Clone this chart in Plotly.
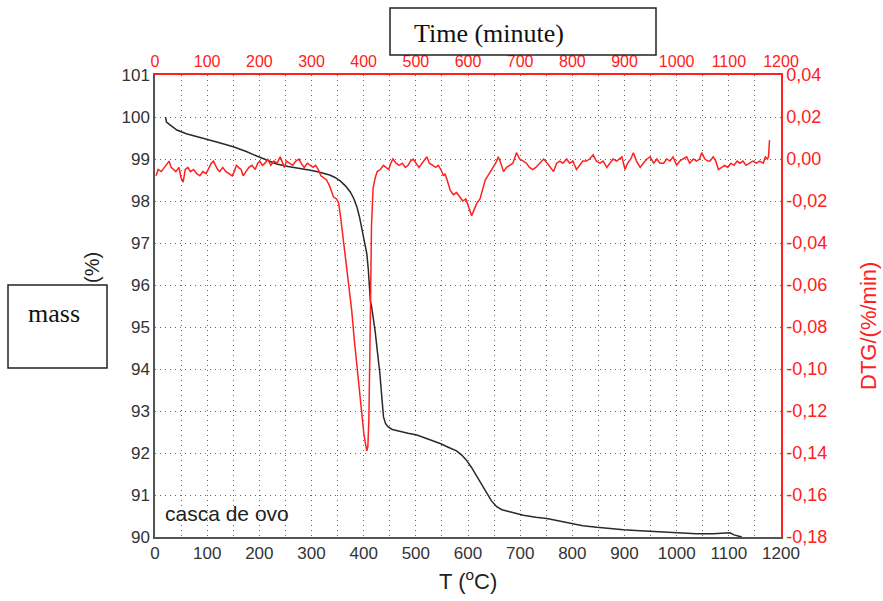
import plotly.graph_objects as go

# ---- data ----
T_mass = [20, 22, 30, 42, 60, 86, 120, 150, 175, 195,
          215, 233, 255, 278, 295, 310, 325, 335, 345, 355,
          365, 374, 381, 387, 392, 396, 401, 406, 409, 411,
          413, 415, 418, 422, 426, 431, 435, 438, 442, 447,
          455, 470, 485, 502, 518, 533, 548, 560, 570, 578,
          588, 597, 607, 617, 627, 636, 645, 655, 665, 680,
          706, 730, 751, 775, 795, 820, 847, 870, 898, 930,
          962, 1000, 1038, 1070, 1090, 1102, 1110, 1121, 1125]
mass = [100.0, 99.88, 99.80, 99.69, 99.60, 99.52, 99.40, 99.29, 99.18, 99.07,
        98.97, 98.88, 98.82, 98.78, 98.74, 98.70, 98.66, 98.62, 98.56, 98.48,
        98.36, 98.22, 98.06, 97.86, 97.62, 97.39, 97.05, 96.75, 96.35, 95.96,
        95.6, 95.5, 95.25, 94.9, 94.45, 93.9, 93.3, 92.86, 92.7, 92.62,
        92.56, 92.51, 92.47, 92.43, 92.36, 92.28, 92.22, 92.15, 92.1, 92.05,
        91.95, 91.83, 91.65, 91.44, 91.24, 91.04, 90.86, 90.72, 90.65, 90.6,
        90.52, 90.47, 90.44, 90.38, 90.33, 90.27, 90.23, 90.2, 90.17, 90.15,
        90.13, 90.1, 90.08, 90.08, 90.09, 90.1, 90.05, 90.01, 90.0]

T_dtg = [2, 6, 12, 18, 22, 27, 31, 35, 40, 46,
         50, 54, 58, 63, 68, 74, 80, 86, 92, 98,
         104, 108, 112, 116, 120, 124, 130, 136, 142, 148,
         152, 156, 160, 165, 169, 174, 180, 186, 192, 197,
         201, 206, 211, 216, 222, 228, 234, 240, 244, 248,
         252, 258, 264, 270, 276, 280, 286, 292, 298, 303,
         308, 313, 318, 323, 329, 335, 342, 348, 352, 356,
         360, 364, 368, 372, 377, 382, 387, 392, 396, 400,
         403, 406, 408, 410, 412, 413, 415, 418, 422, 426,
         432, 438, 443, 448, 452, 456, 462, 468, 474, 480,
         485, 490, 495, 500, 506, 512, 517, 521, 526, 532,
         538, 543, 548, 553, 556, 560, 566, 572, 578, 584,
         590, 596, 602, 607, 612, 617, 623, 628, 633, 638,
         643, 648, 653, 658, 663, 668, 674, 680, 686, 693,
         699, 706, 712, 718, 724, 730, 737, 745, 752, 758,
         764, 770, 776, 782, 789, 795, 801, 808, 814, 820,
         827, 833, 840, 846, 853, 859, 866, 872, 878, 885,
         890, 895, 901, 906, 912, 917, 923, 930, 936, 943,
         949, 956, 962, 968, 975, 981, 987, 993, 1000, 1006,
         1012, 1019, 1025, 1032, 1038, 1044, 1048, 1054, 1060, 1064,
         1070, 1075, 1080, 1086, 1092, 1098, 1104, 1110, 1116, 1121,
         1127, 1133, 1140, 1146, 1153, 1159, 1166, 1170, 1174, 1176,
         1178]
dtg = [-0.008, -0.005, -0.006, -0.004, -0.003, -0.001, -0.004, -0.005, -0.006, -0.004,
       -0.009, -0.011, -0.005, -0.004, -0.006, -0.005, -0.007, -0.008, -0.006, -0.007,
       -0.004, -0.002, -0.001, -0.003, -0.005, -0.006, -0.004, -0.006, -0.007, -0.008,
       -0.006, -0.003, -0.004, -0.005, -0.008, -0.006, -0.004, -0.003, -0.005, -0.002,
       -0.001, -0.003, -0.002, 0.000, -0.003, -0.001, -0.002, 0.001, -0.002, -0.004,
       -0.001, -0.002, -0.003, -0.001, 0.000, -0.002, -0.004, -0.002, -0.003, -0.004,
       -0.003, -0.005, -0.008, -0.009, -0.010, -0.013, -0.018, -0.019, -0.021, -0.028,
       -0.036, -0.044, -0.052, -0.062, -0.072, -0.086, -0.099, -0.111, -0.122, -0.130,
       -0.135, -0.139, -0.137, -0.124, -0.090, -0.060, -0.032, -0.014, -0.009, -0.006,
       -0.005, -0.003, -0.004, -0.005, -0.002, 0.000, -0.002, -0.003, -0.002, -0.004,
       -0.003, -0.001, 0.000, -0.002, -0.004, -0.002, 0.000, 0.001, -0.002, -0.003,
       -0.004, -0.003, -0.005, -0.008, -0.007, -0.010, -0.015, -0.017, -0.016, -0.018,
       -0.020, -0.019, -0.023, -0.027, -0.024, -0.021, -0.019, -0.014, -0.010, -0.008,
       -0.006, -0.004, -0.002, 0.001, -0.002, -0.006, -0.004, -0.003, -0.002, 0.003,
       0.000, -0.001, -0.002, -0.004, -0.005, -0.004, -0.002, 0.000, -0.002, -0.004,
       -0.006, -0.002, -0.001, -0.002, 0.000, -0.002, -0.001, -0.005, -0.003, -0.001,
       -0.001, 0.000, 0.002, -0.001, -0.002, -0.001, -0.004, -0.002, 0.000, -0.001,
       0.000, 0.001, -0.005, -0.002, 0.000, 0.003, -0.001, -0.004, -0.002, 0.000,
       0.001, -0.002, 0.000, -0.002, -0.002, 0.000, -0.001, 0.001, -0.003, -0.001,
       0.000, 0.001, -0.002, 0.000, -0.001, 0.000, 0.003, 0.000, -0.001, -0.001,
       0.001, -0.001, -0.005, -0.004, -0.003, -0.004, -0.002, -0.003, -0.001, -0.002,
       -0.001, -0.003, -0.002, -0.001, -0.002, -0.001, -0.002, 0.001, 0.000, 0.001,
       0.009]

x_ticks = list(range(0, 1201, 100))
mass_ticks = list(range(90, 102))
dtg_ticks = [0.04, 0.02, 0.00, -0.02, -0.04, -0.06, -0.08, -0.10,
             -0.12, -0.14, -0.16, -0.18]
dtg_ticktext = ["0,04", "0,02", "0,00", "-0,02", "-0,04", "-0,06", "-0,08",
                "-0,10", "-0,12", "-0,14", "-0,16", "-0,18"]

RED = "#ff2020"
DARK = "#333333"
GRID = "#666666"
GDASH = "1px,4px"

fig = go.Figure()
fig.add_trace(go.Scatter(x=T_mass, y=mass, mode="lines",
                         line=dict(color="#2a2a2a", width=1.5),
                         xaxis="x", yaxis="y", showlegend=False))
fig.add_trace(go.Scatter(x=T_dtg, y=dtg, mode="lines",
                         line=dict(color=RED, width=1.5),
                         xaxis="x2", yaxis="y2", showlegend=False))

W, H = 883, 601
L, R, T, B = 155, 781, 75, 537


def px(x):
    return (x - L) / (R - L)


def py(y):
    return (B - y) / (B - T)


fig.update_layout(
    width=W, height=H,
    margin=dict(l=L, r=W - R, t=T, b=H - B, pad=0),
    paper_bgcolor="white", plot_bgcolor="white",
    font=dict(family="Arial, Liberation Sans, sans-serif", color=DARK),
    xaxis=dict(range=[0, 1200], tickvals=x_ticks, side="bottom", anchor="y",
               showline=True, linecolor="#555555", linewidth=1.5,
               ticks="", tickfont=dict(size=17, color=DARK),
               showgrid=True, gridcolor=GRID, griddash=GDASH, gridwidth=1,
               minor=dict(dtick=50, showgrid=True, gridcolor=GRID,
                          griddash=GDASH, gridwidth=1),
               zeroline=False),
    yaxis=dict(range=[90, 101], tickvals=mass_ticks, anchor="x",
               showline=True, linecolor="#555555", linewidth=1.5,
               ticks="", tickfont=dict(size=17, color=DARK),
               showgrid=True, gridcolor=GRID, griddash=GDASH, gridwidth=1,
               zeroline=False),
    xaxis2=dict(range=[0, 1200], tickvals=x_ticks, side="top", overlaying="x",
                anchor="y2", showline=True, linecolor=RED, linewidth=1.5,
                ticks="", tickfont=dict(size=16, color=RED),
                showgrid=False, zeroline=False),
    yaxis2=dict(range=[-0.18, 0.04], tickvals=dtg_ticks, ticktext=dtg_ticktext,
                side="right", overlaying="y", anchor="x2",
                showline=True, linecolor=RED, linewidth=1.5,
                ticks="", tickfont=dict(size=18, color=RED),
                showgrid=False, zeroline=False),
)

# axis titles
fig.add_annotation(text="T (<sup>o</sup>C)", xref="paper", yref="paper",
                   x=px(468), y=py(580), xanchor="center", yanchor="middle",
                   showarrow=False, font=dict(size=22, color="#222"))
fig.add_annotation(text="DTG/(%/min)", xref="paper", yref="paper",
                   x=px(868), y=py(326), xanchor="center", yanchor="middle",
                   textangle=-90, showarrow=False,
                   font=dict(size=22, color=RED))

fig.add_annotation(text="casca de ovo", xref="x", yref="y", x=15, y=90.55,
                   xanchor="left", yanchor="middle", showarrow=False,
                   font=dict(size=21, color="#222"))

fig.add_annotation(text="(%)", xref="paper", yref="paper", x=px(92), y=py(268),
                   xanchor="center", yanchor="middle",
                   textangle=-90, showarrow=False,
                   font=dict(size=20, color="#222"))

# boxes
fig.add_shape(type="rect", xref="paper", yref="paper",
              x0=px(8), x1=px(107), y0=py(285), y1=py(368),
              line=dict(color="#222", width=1.5), fillcolor="white", layer="above")
fig.add_annotation(text="mass", xref="paper", yref="paper", x=px(54), y=py(313),
                   xanchor="center", yanchor="middle", showarrow=False,
                   font=dict(family="Liberation Serif, Times New Roman, serif",
                             size=26, color="#111"))

fig.add_shape(type="rect", xref="paper", yref="paper",
              x0=px(390), x1=px(656), y0=py(8), y1=py(55),
              line=dict(color="#222", width=1.5), fillcolor="white", layer="above")
fig.add_annotation(text="Time (minute)", xref="paper", yref="paper",
                   x=px(489), y=py(33), xanchor="center", yanchor="middle",
                   showarrow=False,
                   font=dict(family="Liberation Serif, Times New Roman, serif",
                             size=26, color="#111"))

fig.write_html("out.html", config={"displayModeBar": False},
               post_script="document.body.style.margin='0px';")
